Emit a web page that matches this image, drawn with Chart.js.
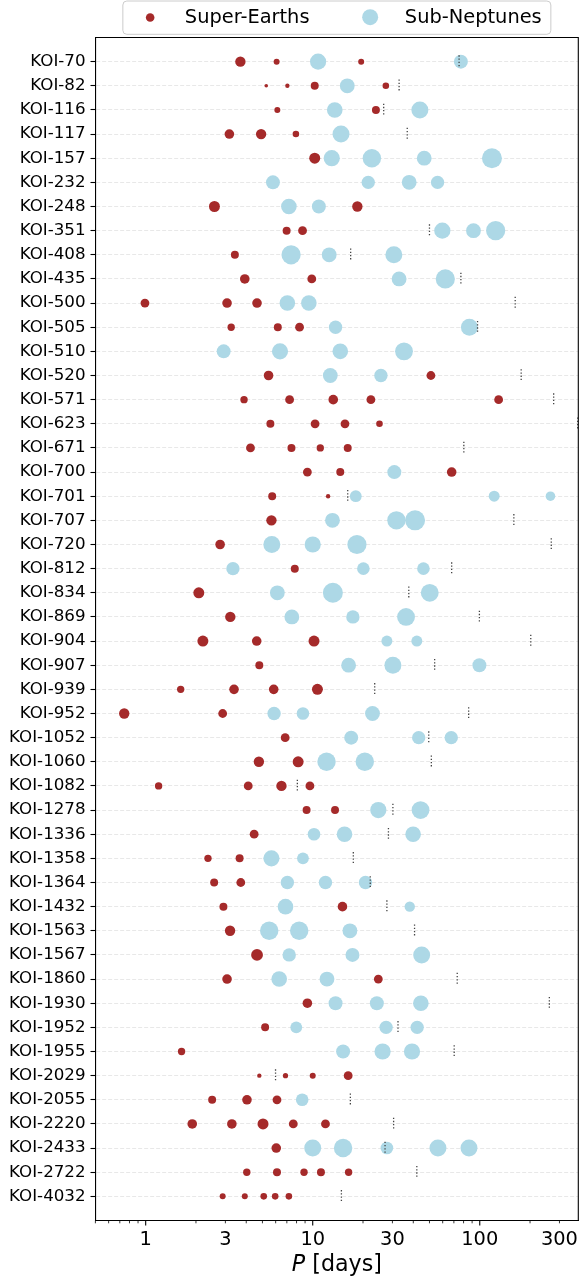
<!DOCTYPE html>
<html><head><meta charset="utf-8">
<script src="https://cdn.jsdelivr.net/npm/chart.js@4.4.1/dist/chart.umd.min.js"></script>
<style>html,body{margin:0;padding:0;background:#fff}#wrap{width:580px;height:1277px}</style>
</head><body><div id="wrap"><canvas id="c" width="580" height="1277"></canvas></div>
<script>
const systems = ['KOI-70','KOI-82','KOI-116','KOI-117','KOI-157','KOI-232','KOI-248','KOI-351','KOI-408','KOI-435',
 'KOI-500','KOI-505','KOI-510','KOI-520','KOI-571','KOI-623','KOI-671','KOI-700','KOI-701','KOI-707',
 'KOI-720','KOI-812','KOI-834','KOI-869','KOI-904','KOI-907','KOI-939','KOI-952','KOI-1052','KOI-1060',
 'KOI-1082','KOI-1278','KOI-1336','KOI-1358','KOI-1364','KOI-1432','KOI-1563','KOI-1567','KOI-1860','KOI-1930',
 'KOI-1952','KOI-1955','KOI-2029','KOI-2055','KOI-2220','KOI-2433','KOI-2722','KOI-4032'];

// Super-Earth orbital periods (days) per system
const superEarthPeriods = [
 [3.69,6.08,19.5],[5.27,7.05,10.28,27.4],[6.14,23.9],[3.17,4.91,7.93],[10.28],
 [],[2.58,18.5],[6.98,8.69],[3.42],[3.92,9.87],
 [0.99,3.07,4.64],[3.25,6.18,8.34],[],[5.44,51.0],[3.88,7.27,13.27,22.3,129.7],
 [5.58,10.33,15.6,25.1],[4.24,7.46,11.1,16.2],[9.29,14.62,67.9],[5.72,12.36],[5.66],
 [2.79],[7.81],[2.08],[3.21],[2.20,4.62,10.18],
 [4.79],[1.62,3.38,5.84,10.67],[0.744,2.89],[6.84],[4.76,8.18],
 [1.195,4.11,6.50,9.62],[9.19,13.6],[4.46],[2.36,3.65],[2.57,3.71],
 [2.92,15.07],[3.20],[4.64],[3.07,24.7],[9.29],
 [5.19],[1.64],[4.79,6.87,10.0,16.3],[2.50,4.04,6.11],[1.90,3.28,5.04,7.65,11.92],
 [6.05],[4.03,6.11,8.87,11.2,16.4],[2.89,3.92,5.09,5.96,7.20]];
// Super-Earth radii (Earth radii, estimated)
const superEarthRadii = [
 [1.73,1.0,1.0],[0.6,0.73,1.33,1.1],[1.0,1.33],[1.6,1.73,1.1],[1.83],
 [],[1.83,1.73],[1.33,1.47],[1.33],[1.6,1.47],
 [1.47,1.6,1.6],[1.23,1.33,1.47],[],[1.6,1.47],[1.23,1.47,1.6,1.47,1.47],
 [1.33,1.47,1.47,1.1],[1.47,1.33,1.23,1.33],[1.47,1.33,1.6],[1.33,0.73],[1.73],
 [1.6],[1.33],[1.83],[1.73],[1.83,1.6,1.83],
 [1.33],[1.23,1.6,1.6,1.83],[1.73,1.47],[1.47],[1.73,1.83],
 [1.23,1.47,1.73,1.47],[1.33,1.33],[1.47],[1.23,1.33],[1.33,1.47],
 [1.33,1.6],[1.73],[1.97],[1.6,1.47],[1.6],
 [1.33],[1.23],[0.73,0.87,1.0,1.47],[1.33,1.6,1.47],[1.6,1.6,1.83,1.47,1.47],
 [1.6],[1.23,1.33,1.23,1.33,1.23],[1.0,1.0,1.1,1.1,1.1]];

// Sub-Neptune orbital periods (days) per system
const subNeptunePeriods = [
 [10.77,77.1],[16.1],[13.55,43.8],[14.77],[13.0,22.6,46.5,118.3],
 [5.78,21.5,37.8,55.9],[7.2,10.88],[59.7,91.7,124.5],[7.42,12.55,30.6],[32.9,62.2],
 [7.05,9.48],[13.7,86.7],[2.93,6.37,14.62,35.2],[12.74,25.6],[],
 [],[],[30.8],[18.1,122,265],[13.13,31.7,41.0],
 [5.69,10.0,18.4],[3.33,20.1,46.0],[6.14,13.2,50.2],[7.50,17.4,36.2],[27.8,42.0],
 [16.4,30.2,99.5],[],[5.87,8.74,22.8],[17.0,43.1,67.5],[12.1,20.5],
 [],[24.7,44.2],[10.18,15.5,39.9],[5.66,8.74],[7.05,11.92,20.7],
 [6.87,38.1],[5.49,8.30,16.7],[7.23,17.3,44.9],[6.30,12.17],[13.7,24.2,44.4],
 [7.97,27.5,42.2],[15.2,26.2,39.3],[],[8.65],[],
 [10.0,15.2,27.8,56.2,86.2],[],[]];
// Sub-Neptune radii (Earth radii, estimated)
const subNeptuneRadii = [
 [2.7,2.33],[2.47],[2.6,2.83],[2.83],[2.7,3.07,2.47,3.33],
 [2.33,2.23,2.47,2.23],[2.6,2.33],[2.7,2.47,3.2],[3.2,2.47,2.83],[2.47,3.2],
 [2.6,2.6],[2.23,2.83],[2.33,2.7,2.6,2.97],[2.47,2.23],[],
 [],[],[2.33],[1.97,1.83,1.6],[2.47,3.07,3.33],
 [2.83,2.7,3.2],[2.23,2.1,2.1],[2.47,3.33,2.97],[2.47,2.23,2.97],[1.83,1.83],
 [2.47,2.83,2.33],[],[2.23,2.1,2.47],[2.33,2.23,2.23],[3.07,3.07],
 [],[2.7,2.97],[2.1,2.6,2.6],[2.7,1.97],[2.23,2.23,2.23],
 [2.6,1.73],[3.07,3.07,2.47],[2.23,2.33,2.83],[2.6,2.47],[2.33,2.33,2.6],
 [1.97,2.23,2.23],[2.33,2.7,2.7],[],[2.1],[],
 [2.83,3.07,2.1,2.83,2.83],[],[]];

// period marked by the dotted line per system (null = none)
const limitPeriods = [75.2,32.9,26.6,36.8,null,null,null,50.0,16.87,77.1,
 163,97.0,null,177,277,386,80.3,null,16.2,160,
 268,67.9,37.6,99.5,202,53.7,23.5,85.8,49.5,51.3,
 8.09,30.2,28.4,17.5,22.1,27.8,40.7,null,73.3,261,
 32.4,70.3,5.99,16.8,30.5,27.1,42.0,14.85];

const xTickValues = [1,3,10,30,100,300];
const xTickLabels = ['1','3','10','30','100','300'];
const legendLabels = ['Super-Earths','Sub-Neptunes'];

const RED = '#a52a2a', BLUE = '#add8e6', FONT = 'DejaVu Sans';
const PX_PER_RADIUS = 3;

function points(periods, radii){
  const out = [];
  periods.forEach((row,i)=>row.forEach((p,j)=>out.push({x:p,y:i,r:radii[i][j]})));
  return out;
}
const limitData = [];
limitPeriods.forEach((p,i)=>{ if(p!=null){ limitData.push({x:p,y:i-0.26},{x:p,y:i+0.26},{x:p,y:null}); } });

// minor tick positions on the log axis
const minorTicks = [];
[0.1,1,10,100].forEach(d=>{ for(let k=1;k<10;k++){ const v=+(k*d).toPrecision(3); if(v>=0.5 && v<=389) minorTicks.push(v);} });

const overlay = {
  id:'overlay',
  afterDraw(chart){
    const {ctx, chartArea:a, scales:{x}} = chart;
    ctx.save();
    ctx.strokeStyle='#000';
    ctx.lineWidth=1.1;
    ctx.beginPath(); ctx.moveTo(a.left,a.top); ctx.lineTo(a.right,a.top); ctx.lineTo(a.right,a.bottom); ctx.stroke();
    // x tick marks
    minorTicks.forEach(v=>{
      const major = (v===1||v===10||v===100);
      const px = x.getPixelForValue(v);
      ctx.lineWidth = major?1.1:0.8;
      ctx.beginPath(); ctx.moveTo(px,a.bottom); ctx.lineTo(px,a.bottom+(major?4.9:2.8)); ctx.stroke();
    });
    // x title
    const cx=(a.left+a.right)/2;
    ctx.fillStyle='#000';
    ctx.textBaseline='alphabetic';
    ctx.font='italic 22.2px "'+FONT+'"';
    const w1=ctx.measureText('P').width;
    ctx.font='22.2px "'+FONT+'"';
    const w2=ctx.measureText(' [days]').width;
    let sx=cx-(w1+w2)/2;
    ctx.font='italic 22.2px "'+FONT+'"'; ctx.fillText('P',sx,a.bottom+50.5);
    ctx.font='22.2px "'+FONT+'"'; ctx.fillText(' [days]',sx+w1,a.bottom+50.5);
    // legend
    const lw=428, lh=33.3, lx=cx-lw/2, ly=1;
    ctx.beginPath(); ctx.roundRect(lx,ly,lw,lh,4);
    ctx.fillStyle='rgba(255,255,255,0.85)'; ctx.fill();
    ctx.strokeStyle='#cccccc'; ctx.lineWidth=1; ctx.stroke();
    ctx.fillStyle=RED; ctx.beginPath(); ctx.arc(lx+27.3,17.5,4.3,0,Math.PI*2); ctx.fill();
    ctx.fillStyle=BLUE; ctx.beginPath(); ctx.arc(lx+247.3,17.2,8,0,Math.PI*2); ctx.fill();
    ctx.fillStyle='#000'; ctx.font='19.4px "'+FONT+'"';
    ctx.fillText(legendLabels[0],lx+62,23.2);
    ctx.fillText(legendLabels[1],lx+282,23.2);
    ctx.restore();
  }
};

new Chart(document.getElementById('c'),{
  type:'scatter',
  data:{datasets:[
    {label:'limit', data:limitData, showLine:true, borderColor:'#444444', borderWidth:1.3, borderDash:[1.3,1.9],
     pointRadius:0, spanGaps:false, order:0},
    {label:legendLabels[0], data:points(superEarthPeriods,superEarthRadii), backgroundColor:RED, borderWidth:0,
     pointRadius:c=>c.raw? c.raw.r*PX_PER_RADIUS:3, order:1},
    {label:legendLabels[1], data:points(subNeptunePeriods,subNeptuneRadii), backgroundColor:BLUE, borderWidth:0,
     pointRadius:c=>c.raw? c.raw.r*PX_PER_RADIUS:3, order:2}
  ]},
  options:{
    responsive:false, animation:false, events:[],
    layout:{autoPadding:false, padding:{top:37.5,left:0,right:1.7,bottom:0}},
    plugins:{legend:{display:false},tooltip:{enabled:false},title:{display:false}},
    scales:{
      x:{type:'logarithmic', min:0.5, max:389,
        afterBuildTicks:s=>{ s.ticks = xTickValues.map(v=>({value:v, major:false})); },
        afterFit:s=>{ s.height = 56.5; s.paddingLeft=0; s.paddingRight=0; s.paddingTop=0; s.paddingBottom=0; },
        ticks:{autoSkip:false, maxRotation:0, padding:8, color:'#000',
          font:{family:FONT,size:19.4},
          callback:(v)=>{ const i=xTickValues.indexOf(v); return i>=0?xTickLabels[i]:''; }},
        grid:{display:false, drawTicks:false, tickLength:0},
        border:{display:true,color:'#000',width:1.1}
      },
      y:{type:'linear', reverse:true, min:-1, max:systems.length,
        afterBuildTicks:s=>{ s.ticks = systems.map((_,i)=>({value:i})); },
        afterFit:s=>{ s.width = 95.4; s.paddingLeft=0; s.paddingRight=0; s.paddingTop=0; s.paddingBottom=0; },
        ticks:{autoSkip:false, padding:4.9, color:'#000', font:{family:FONT,size:16.7},
          callback:(v)=>systems[v]},
        grid:{color:'#e2e2e2', lineWidth:0.8, tickLength:4.9, tickColor:'#000', tickWidth:1.1, drawTicks:true},
        border:{display:true,color:'#000',width:1.1,dash:[4,2]}
      }
    }
  },
  plugins:[overlay]
});
</script></body></html>
